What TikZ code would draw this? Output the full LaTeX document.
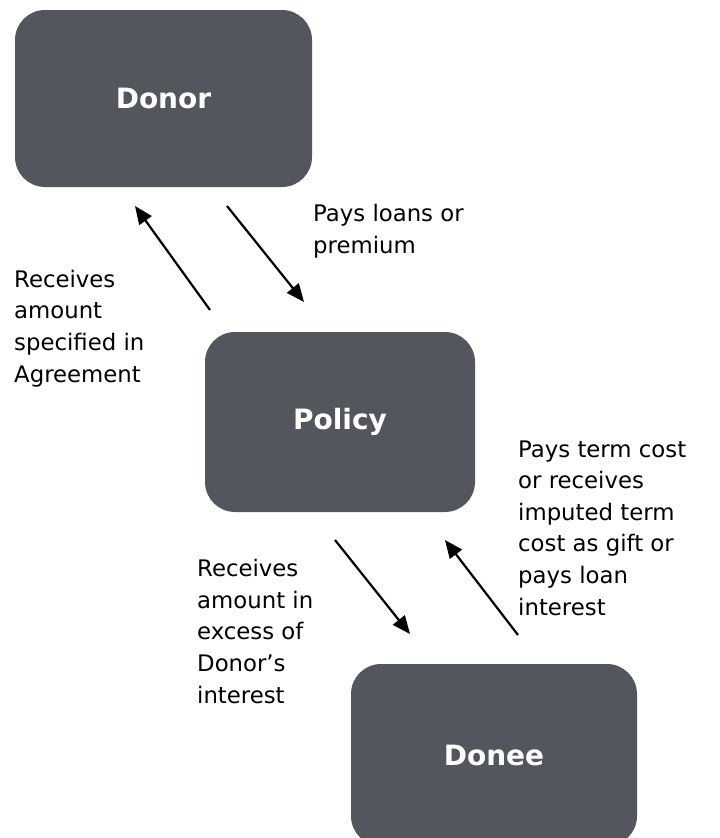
\documentclass[tikz,border=0pt]{standalone}
\usepackage{fontspec}
\setmainfont{DejaVu Sans}
\usetikzlibrary{arrows.meta}
\definecolor{boxgray}{HTML}{53565C}
\tikzset{
  party/.style={draw=none, fill=boxgray, rounded corners=30pt, text=white,
    font=\fontsize{28}{32}\selectfont\bfseries, inner sep=0pt},
  note/.style={anchor=base west, align=left, inner sep=0pt,
    font=\fontsize{22.8}{31.6}\selectfont},
  flow/.style={line width=2.2pt, -{Triangle[length=18pt,width=15pt]}}
}
\begin{document}
\begin{tikzpicture}[x=1pt,y=-1pt]
\useasboundingbox (0,0) rectangle (720,838);
\clip (0,0) rectangle (720,838);
\node[party, minimum width=297pt, minimum height=177pt] (donor) at (163.5,98.5) {Donor};
\node[party, minimum width=270pt, minimum height=180pt] (policy) at (340,422) {Policy};
\node[party, minimum width=286pt, minimum height=182pt] (donee) at (494,755) {Donee};

\node[note] (t1) at (313,253) {Pays loans or\\premium};
\node[note] (t2) at (14,382) {Receives\\amount\\specified in\\Agreement};
\node[note] (t3) at (197,703) {Receives\\amount in\\excess of\\Donor’s\\interest};
\node[note] (t4) at (518,615) {Pays term cost\\or receives\\imputed term\\cost as gift or\\pays loan\\interest};

\coordinate (a1s) at (210,310); \coordinate (a1e) at (135,206);
\coordinate (a2s) at (227,206); \coordinate (a2e) at (304,302);
\coordinate (a3s) at (335,540); \coordinate (a3e) at (410,634);
\coordinate (a4s) at (518,635); \coordinate (a4e) at (445,540);
\draw[flow] (a1s) -- (a1e);
\draw[flow] (a2s) -- (a2e);
\draw[flow] (a3s) -- (a3e);
\draw[flow] (a4s) -- (a4e);
\end{tikzpicture}
\end{document}
